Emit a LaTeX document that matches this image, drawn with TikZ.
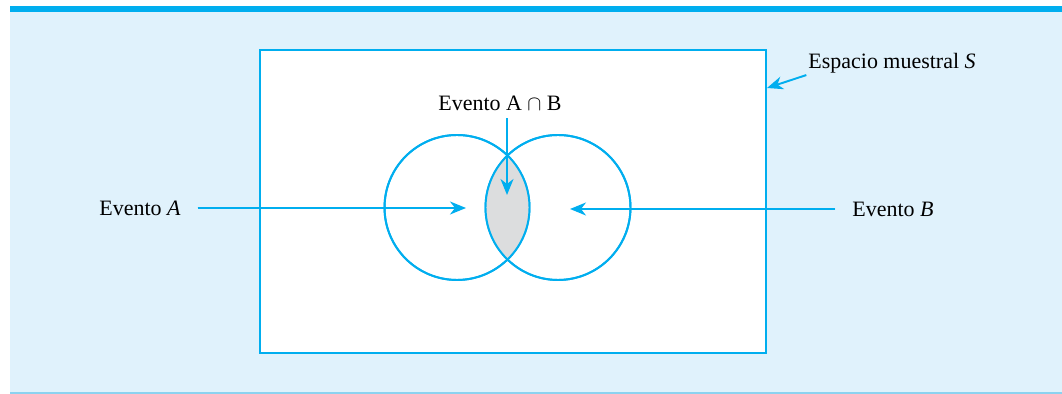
\documentclass[tikz,border=0pt]{standalone}
\usepackage{fontspec}
\setmainfont{Liberation Serif}
\usetikzlibrary{arrows.meta,positioning}

\definecolor{lineblue}{RGB}{0,174,239}
\definecolor{panelblue}{RGB}{224,242,252}
\definecolor{edgeblue}{RGB}{140,210,240}
\definecolor{lensgray}{RGB}{220,221,222}

\begin{document}
\begin{tikzpicture}[x=0.02cm, y=-0.02cm,
    ring/.style={draw=lineblue, line width=1.1pt, circle, minimum size=2.9cm, inner sep=0pt},
    lbl/.style={font=\fontsize{12.5}{15}\selectfont, inner sep=1pt},
    point/.style={-{Stealth[length=3.2mm, width=2.6mm, inset=1mm]}, draw=lineblue, fill=lineblue, line width=1.1pt},
  ]
  \useasboundingbox (0,0) rectangle (1062,394);

  % Panel
  \fill[panelblue] (10,12) rectangle (1062,392);
  \fill[lineblue] (10,6) rectangle (1062,12);
  \fill[edgeblue] (10,392) rectangle (1062,394);

  % Sample space
  \node[draw=lineblue, fill=white, line width=1.1pt, minimum width=10.12cm, minimum height=6.06cm, inner sep=0pt]
    (espacio) at (513,201.5) {};

  % Events
  \node[ring] (circA) at (457,207.5) {};
  \node[ring] (circB) at (558,207.5) {};
  \begin{scope}
    \clip (457,207.5) circle[radius=72.5];
    \fill[lensgray] (558,207.5) circle[radius=72.5];
  \end{scope}
  \node[ring] at (circA) {};
  \node[ring] at (circB) {};

  % Labels
  \node[lbl] (evA)  at (140,208) {Evento \textit{A}};
  \node[lbl] (evB)  at (893,209) {Evento \textit{B}};
  \node[lbl] (evAB) at (500,103) {Evento A $\cap$ B};
  \node[lbl] (esp)  at (892,63)  {Espacio muestral \textit{S}};

  % Arrow targets
  \coordinate (tipA)  at (466,208);
  \coordinate (tipB)  at (570,209);
  \coordinate (tipAB) at (507,195);
  \coordinate (tipS)  at (767,88);

  % Pointers
  \draw[point, shorten <=0.3cm] (evA.east) -- (tipA);
  \draw[point, shorten <=0.3cm] (evB.west) -- (tipB);
  \draw[point, shorten <=0.12cm] (evAB.south -| tipAB) -- (tipAB);
  \draw[point] (esp.south west) -- (tipS);
\end{tikzpicture}
\end{document}
